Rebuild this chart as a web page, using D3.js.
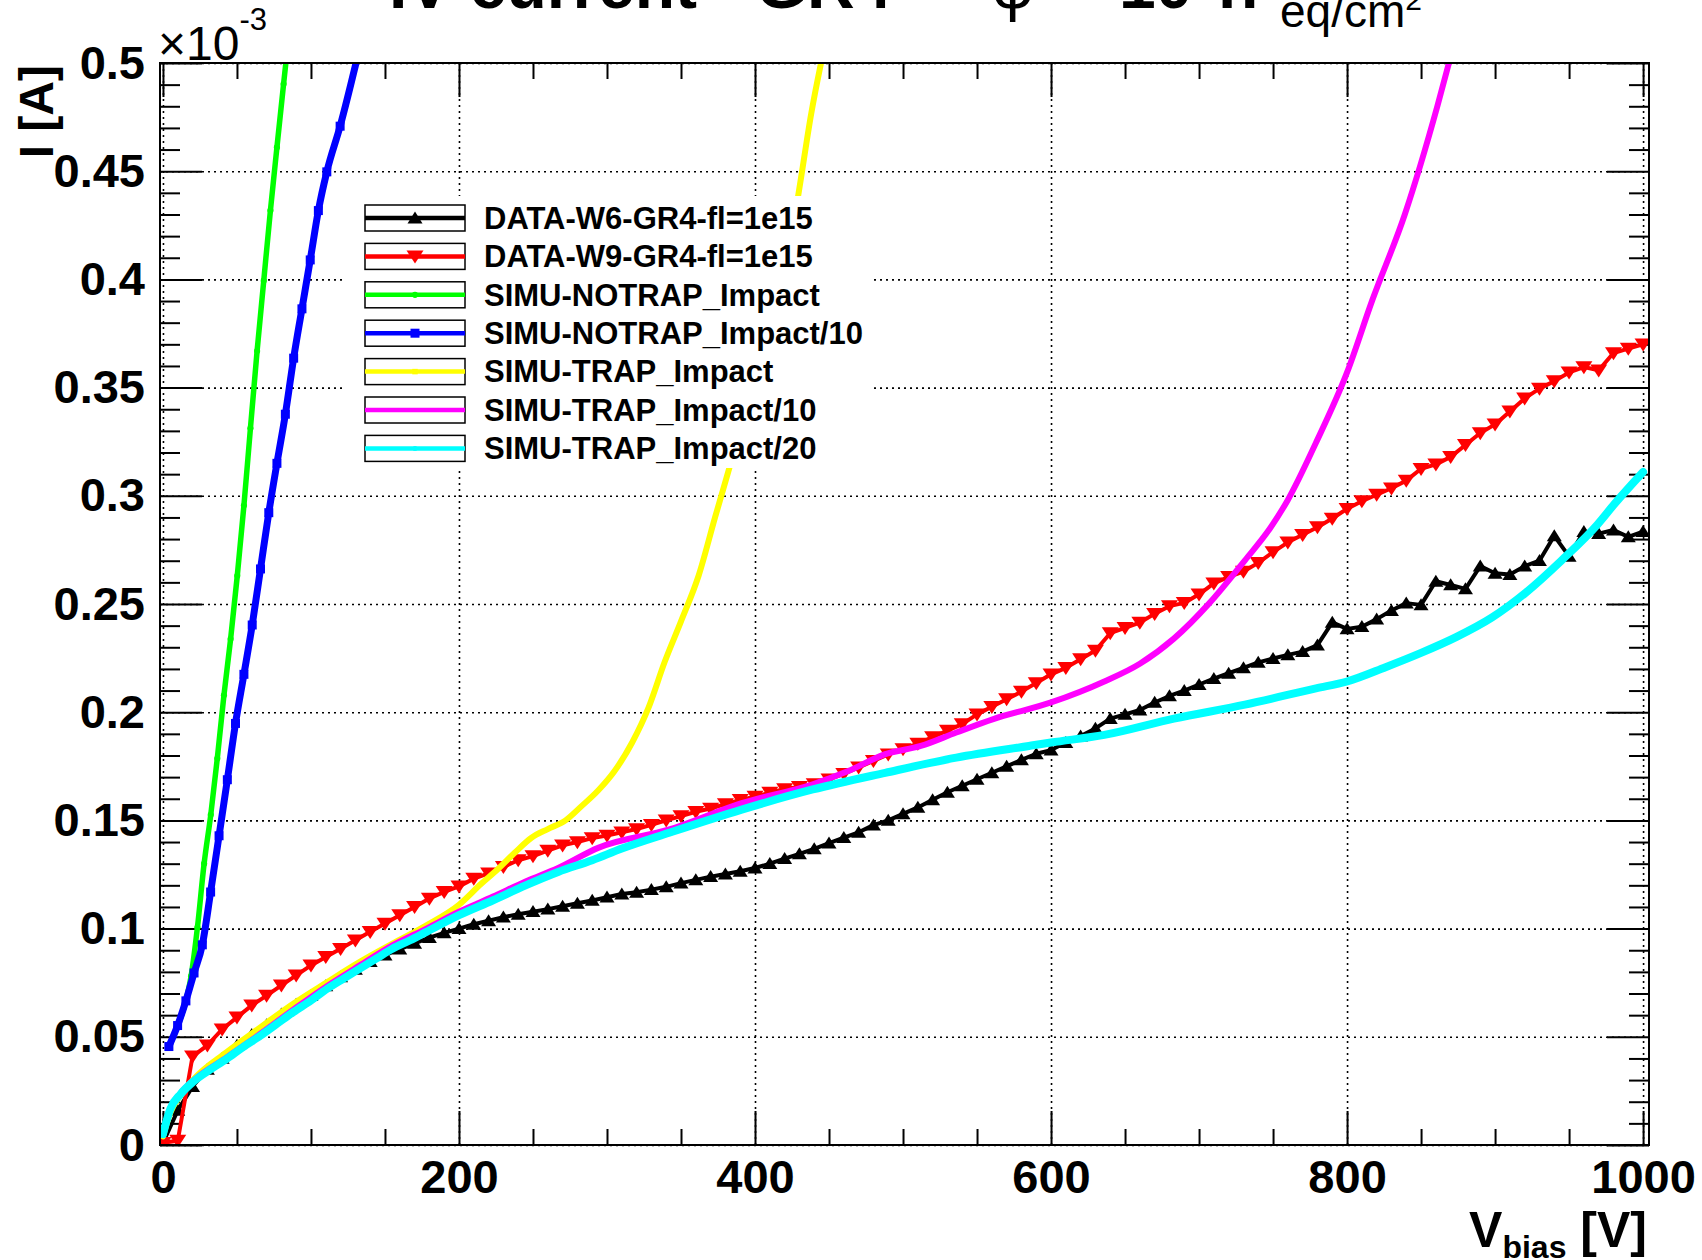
<!DOCTYPE html>
<html><head><meta charset="utf-8">
<script src="https://cdn.jsdelivr.net/npm/d3@7"></script>
<style>
html,body{margin:0;padding:0;background:#fff;}
svg{display:block;}
text{font-family:"Liberation Sans",Arial,Helvetica,sans-serif;}
</style></head>
<body>
<svg id="c" width="1702" height="1260"></svg>
<script>
// ---------- data (current in units of 1e-3 A) ----------
const dataVolts = [0,10,20,30,40,50,60,70,80,90,100,110,120,130,140,150,160,170,180,190,200,
 210,220,230,240,250,260,270,280,290,300,310,320,330,340,350,360,370,380,390,400,
 410,420,430,440,450,460,470,480,490,500,510,520,530,540,550,560,570,580,590,600,
 610,620,630,640,650,660,670,680,690,700,710,720,730,740,750,760,770,780,790,800,
 810,820,830,840,850,860,870,880,890,900,910,920,930,940,950,960,970,980,990,1000];

const w6Current = [0.001,0.016,0.027,0.035,0.040,0.046,0.051,0.0555,0.0605,0.065,0.069,
 0.0735,0.0777,0.0812,0.0847,0.0877,0.0905,0.0932,0.0958,0.098,0.100,
 0.102,0.1036,0.1053,0.1066,0.1078,0.109,0.1103,0.1117,0.113,0.1145,
 0.116,0.1168,0.118,0.1193,0.121,0.1225,0.124,0.1252,0.1265,0.128,
 0.130,0.1323,0.1345,0.1368,0.1395,0.142,0.1445,0.1478,0.150,0.153,
 0.156,0.1595,0.163,0.166,0.169,0.172,0.175,0.178,0.1808,0.1825,
 0.186,0.189,0.1925,0.197,0.199,0.201,0.2045,0.2075,0.210,0.2128,
 0.2155,0.218,0.2205,0.223,0.2248,0.2265,0.228,0.231,0.2415,0.2385,
 0.2395,0.243,0.247,0.2504,0.2496,0.2605,0.2588,0.257,0.2675,0.2642,
 0.2636,0.2675,0.270,0.2815,0.272,0.2835,0.2825,0.2842,0.281,0.2835];

const w9Current = [0.001,0.002,0.041,0.046,0.0535,0.059,0.0645,0.069,0.0738,0.0784,0.083,
 0.0869,0.0907,0.0946,0.0985,0.1023,0.1062,0.110,0.1139,0.117,0.1195,
 0.1231,0.1255,0.1285,0.1316,0.1335,0.136,0.1385,0.140,0.1418,0.143,
 0.1445,0.146,0.148,0.150,0.152,0.154,0.1555,0.1575,0.1595,0.161,
 0.1628,0.1645,0.1655,0.1668,0.169,0.1715,0.1745,0.1775,0.1805,0.183,
 0.1855,0.1885,0.1915,0.1945,0.199,0.2025,0.206,0.2095,0.2135,0.2175,
 0.2205,0.2245,0.2285,0.2365,0.239,0.2414,0.2455,0.249,0.2505,0.2545,
 0.2595,0.2625,0.265,0.269,0.274,0.2785,0.282,0.2855,0.2895,0.294,
 0.2975,0.3005,0.3035,0.307,0.3125,0.3145,0.318,0.3235,0.329,0.333,
 0.339,0.345,0.3495,0.353,0.357,0.3595,0.358,0.366,0.368,0.370];

const notrapV = [4,10,15.5,19,23.3,27.8,32.3,36.7,41.2,45.7,50.2,54.7,59.1,63.6,68.1,72.6,77,81.5,83.5];
const notrapI = [0.0455,0.0552,0.0666,0.078,0.1006,0.13,0.1526,0.1786,0.2078,0.2338,0.263,0.2955,0.3312,0.3669,0.3994,0.4318,0.461,0.4903,0.503];

const notrap10V = [4,9.9,15.5,21,26.6,32.2,37.9,43.5,49,54.7,60.3,65.9,71.5,77,82.7,88.3,93.9,99.5,105,110.7,119.7,131.5];
const notrap10I = [0.0455,0.0552,0.0666,0.0795,0.0925,0.1169,0.1429,0.1688,0.1948,0.2175,0.2403,0.2662,0.2922,0.315,0.3377,0.3636,0.3864,0.409,0.4318,0.4497,0.4708,0.503];

const trapV = [0,5,12,21,43,66,88,111,133,155,178,200,215,226,238,249,260,272,283,294,305,317,328,339,350,362,373,382,429,438,445.5];
const trapI = [0.004,0.015,0.023,0.0306,0.0429,0.0545,0.0653,0.0753,0.0846,0.093,0.1015,0.111,0.1207,0.1273,0.1353,0.142,0.146,0.150,0.1567,0.1638,0.1727,0.186,0.202,0.2233,0.242,0.2633,0.290,0.3113,0.438,0.4767,0.503];

const trap10V = [0,5,12,20,43,66,88,111,133,155,178,200,223,245,267,294,342,391,439,463,488,512,536,561,600,636,660,683,707,731,748,760,779,800,817,839,861,870];
const trap10I = [0.005,0.017,0.024,0.0295,0.0405,0.0515,0.0625,0.0735,0.083,0.0922,0.100,0.1078,0.1148,0.1218,0.128,0.1373,0.1458,0.158,0.1667,0.1728,0.1806,0.1844,0.1906,0.1968,0.2045,0.2142,0.2224,0.234,0.2504,0.2702,0.285,0.2981,0.3245,0.357,0.3903,0.430,0.480,0.503];

const trap20V = [0,5,12,20,30,43,54,66,77,88,100,111,122,133,144,155,167,178,200,223,245,267,290,310,342,391,439,488,536,585,600,636,683,731,779,800,826,850,874,898,921,945,969,981,1000];
const trap20I = [0.005,0.0167,0.0236,0.029,0.034,0.0398,0.0452,0.0506,0.056,0.0614,0.0668,0.0722,0.0769,0.0815,0.0861,0.0907,0.0946,0.0985,0.1062,0.1131,0.120,0.1262,0.1316,0.137,0.1443,0.155,0.1643,0.172,0.179,0.1844,0.186,0.1895,0.197,0.2035,0.211,0.2142,0.2208,0.2274,0.2348,0.2438,0.2554,0.2702,0.2866,0.2965,0.311];

const seriesNames = ["DATA-W6-GR4-fl=1e15","DATA-W9-GR4-fl=1e15","SIMU-NOTRAP_Impact","SIMU-NOTRAP_Impact/10","SIMU-TRAP_Impact","SIMU-TRAP_Impact/10","SIMU-TRAP_Impact/20"];
const seriesColors = ["#000000","#ff0000","#00ff00","#0000ff","#ffff00","#ff00ff","#00ffff"];

const xMajorTicks = [0,200,400,600,800,1000];
const xMinorTicks = [50,100,150,250,300,350,450,500,550,650,700,750,850,900,950];
const yMajorTicks = [0,0.05,0.1,0.15,0.2,0.25,0.3,0.35,0.4,0.45,0.5];
const yTickLabels = ["0","0.05","0.1","0.15","0.2","0.25","0.3","0.35","0.4","0.45","0.5"];
const yMinorTicks = [0.01,0.02,0.03,0.04,0.06,0.07,0.08,0.09,0.11,0.12,0.13,0.14,0.16,0.17,0.18,0.19,
 0.21,0.22,0.23,0.24,0.26,0.27,0.28,0.29,0.31,0.32,0.33,0.34,0.36,0.37,0.38,0.39,0.41,0.42,0.43,0.44,0.46,0.47,0.48,0.49];

// ---------- layout ----------
const L = 160, R = 1649, T = 63, B = 1145;
const svg = d3.select("#c");
const x = d3.scaleLinear().domain([-2, 1004]).range([L, R]);
const y = d3.scaleLinear().domain([0, 0.5]).range([B, T]);

svg.append("rect").attr("width",1702).attr("height",1260).attr("fill","#fff");

svg.append("clipPath").attr("id","plotclip").append("rect")
  .attr("x",L).attr("y",T).attr("width",R-L).attr("height",B-T);

// grid
const gridStyle = g => { g.select(".domain").remove(); g.selectAll("text").remove();
  g.selectAll("line").attr("stroke","#000").attr("stroke-width",1.6).attr("stroke-dasharray","2,4"); };
svg.append("g").attr("transform",`translate(0,${B})`)
  .call(d3.axisBottom(x).tickValues(xMajorTicks).tickSize(-(B-T)).tickSizeOuter(0)).call(gridStyle);
svg.append("g").attr("transform",`translate(${L},0)`)
  .call(d3.axisLeft(y).tickValues(yMajorTicks).tickSize(-(R-L)).tickSizeOuter(0)).call(gridStyle);

// inward ticks
const tickStyle = g => { g.select(".domain").remove(); g.selectAll("text").remove();
  g.selectAll("line").attr("stroke","#000").attr("stroke-width",2); };
const addTicks = (axisFn, tr, vals, size) =>
  svg.append("g").attr("transform",tr).call(axisFn.tickValues(vals).tickSize(size).tickSizeOuter(0)).call(tickStyle);
addTicks(d3.axisTop(x), `translate(0,${B})`, xMajorTicks, 34);
addTicks(d3.axisTop(x), `translate(0,${B})`, xMinorTicks, 16);
addTicks(d3.axisBottom(x), `translate(0,${T})`, xMajorTicks, 34);
addTicks(d3.axisBottom(x), `translate(0,${T})`, xMinorTicks, 16);
addTicks(d3.axisRight(y), `translate(${L},0)`, yMajorTicks, 42);
addTicks(d3.axisRight(y), `translate(${L},0)`, yMinorTicks, 20);
addTicks(d3.axisLeft(y), `translate(${R},0)`, yMajorTicks, 42);
addTicks(d3.axisLeft(y), `translate(${R},0)`, yMinorTicks, 20);

// tick labels
const lblStyle = g => { g.select(".domain").remove(); g.selectAll("line").remove();
  g.selectAll("text").attr("font-family","'Liberation Sans',Arial,sans-serif").attr("font-weight","bold")
   .attr("font-size",47).attr("fill","#000"); };
svg.append("g").attr("transform",`translate(0,${B})`)
  .call(d3.axisBottom(x).tickValues(xMajorTicks).tickSize(0).tickPadding(15).tickFormat(d=>String(d))).call(lblStyle);
svg.append("g").attr("transform",`translate(${L},0)`)
  .call(d3.axisLeft(y).tickValues(yMajorTicks).tickSize(0).tickPadding(15).tickFormat((d,i)=>yTickLabels[i])).call(lblStyle);

// marker shapes (wide ROOT-like triangles)
const triUp = (w,h) => `M0,${-h*0.55}L${w/2},${h*0.45}L${-w/2},${h*0.45}Z`;
const triDown = (w,h) => `M0,${h*0.55}L${w/2},${-h*0.45}L${-w/2},${-h*0.45}Z`;

// curves
const plot = svg.append("g").attr("clip-path","url(#plotclip)");
const zip = (vs, is) => vs.map((v,i)=>[v, is[i]]);
const lineLin = d3.line().x(d=>x(d[0])).y(d=>y(d[1]));
const lineSmooth = d3.line().x(d=>x(d[0])).y(d=>y(d[1])).curve(d3.curveMonotoneX);

const w6 = zip(dataVolts, w6Current), w9 = zip(dataVolts, w9Current);
const sims = [
  {pts: zip(notrapV, notrapI), c: seriesColors[2], w: 5.5, m: "circle", ms: 30},
  {pts: zip(notrap10V, notrap10I), c: seriesColors[3], w: 7, m: "square", ms: 81},
  {pts: zip(trapV, trapI), c: seriesColors[4], w: 6, m: null},
  {pts: zip(trap10V, trap10I), c: seriesColors[5], w: 6, m: null},
  {pts: zip(trap20V, trap20I), c: seriesColors[6], w: 8, m: null}
];

plot.append("path").datum(w6).attr("d",lineLin).attr("fill","none").attr("stroke",seriesColors[0])
  .attr("stroke-width",4).attr("stroke-linejoin","round");
plot.selectAll(".m6").data(w6).join("path").attr("class","m6")
  .attr("d", triUp(15,12)).attr("transform",d=>`translate(${x(d[0])},${y(d[1])})`).attr("fill",seriesColors[0]);
plot.append("path").datum(w9).attr("d",lineLin).attr("fill","none").attr("stroke",seriesColors[1])
  .attr("stroke-width",4).attr("stroke-linejoin","round");
plot.selectAll(".m9").data(w9).join("path").attr("class","m9")
  .attr("d", triDown(17,13)).attr("transform",d=>`translate(${x(d[0])},${y(d[1])})`).attr("fill",seriesColors[1]);
sims.forEach(s => {
  plot.append("path").datum(s.pts).attr("d",lineSmooth).attr("fill","none").attr("stroke",s.c)
    .attr("stroke-width",s.w).attr("stroke-linejoin","round").attr("stroke-linecap","round");
  if (s.m) {
    const sym = s.m === "square" ? d3.symbolSquare : d3.symbolCircle;
    plot.selectAll(null).data(s.pts).join("path").attr("d", d3.symbol(sym, s.ms)())
      .attr("transform",d=>`translate(${x(d[0])},${y(d[1])})`).attr("fill",s.c);
  }
});

// frame
svg.append("rect").attr("x",L).attr("y",T).attr("width",R-L).attr("height",B-T)
  .attr("fill","none").attr("stroke","#000").attr("stroke-width",2);

// legend
const leg = svg.append("g");
leg.append("rect").attr("x",342).attr("y",196).attr("width",528).attr("height",272).attr("fill","#fff");
const legMarkers = [
  triUp(15,12),
  triDown(17,13),
  d3.symbol(d3.symbolCircle, 30)(),
  d3.symbol(d3.symbolSquare, 81)(),
  d3.symbol(d3.symbolSquare, 30)(),
  d3.symbol(d3.symbolCircle, 8)(),
  d3.symbol(d3.symbolCircle, 20)()
];
seriesNames.forEach((name, i) => {
  const cy = 218 + i * 38.4;
  const g = leg.append("g");
  g.append("rect").attr("x",365).attr("y",cy-13).attr("width",100).attr("height",26)
    .attr("fill","#fff").attr("stroke","#000").attr("stroke-width",1.5);
  g.append("line").attr("x1",365).attr("x2",465).attr("y1",cy).attr("y2",cy)
    .attr("stroke",seriesColors[i]).attr("stroke-width",4.5);
  g.append("path").attr("d", legMarkers[i])
    .attr("transform",`translate(415,${cy})`).attr("fill",seriesColors[i]);
  g.append("text").attr("x",484).attr("y",cy).attr("dy","0.35em").attr("font-weight","bold")
    .attr("font-size",31).attr("fill","#000").text(name);
});

// axis titles
svg.append("text").attr("transform","translate(53,65) rotate(-90)").attr("text-anchor","end")
  .attr("font-weight","bold").attr("font-size",48).text("I [A]");
const xt = svg.append("text").attr("x",1647).attr("y",1247).attr("text-anchor","end")
  .attr("font-weight","bold").attr("font-size",50);
xt.append("tspan").text("V");
xt.append("tspan").attr("font-size",32).attr("dy",11).text("bias");
xt.append("tspan").attr("dy",-11).text(" [V]");

// exponent
const ex = svg.append("text").attr("x",158).attr("y",60).attr("font-size",48);
ex.append("tspan").text("\u00d710");
ex.append("tspan").attr("font-size",31).attr("dy",-30).text("-3");

// title (cut off at top)
svg.append("text").attr("x",389).attr("y",8).attr("font-weight","bold").attr("font-size",66).text("IV current - GR4 -");
svg.append("text").attr("x",1013).attr("y",8).attr("text-anchor","middle").attr("font-size",66).text("\u03c6");
svg.append("text").attr("x",1060).attr("y",8).attr("font-weight","bold").attr("font-size",66).text("=");
svg.append("text").attr("x",1119).attr("y",8).attr("font-weight","bold").attr("font-size",66).text("10");
svg.append("text").attr("x",1197).attr("y",-17).attr("font-weight","bold").attr("font-size",44).text("15");
svg.append("text").attr("x",1218).attr("y",8).attr("font-weight","bold").attr("font-size",66).text("n");
const sub = svg.append("text").attr("x",1280).attr("y",27).attr("font-size",46);
sub.append("tspan").text("eq/cm");
sub.append("tspan").attr("font-size",30).attr("dy",-17).text("2");
</script>
</body></html>
